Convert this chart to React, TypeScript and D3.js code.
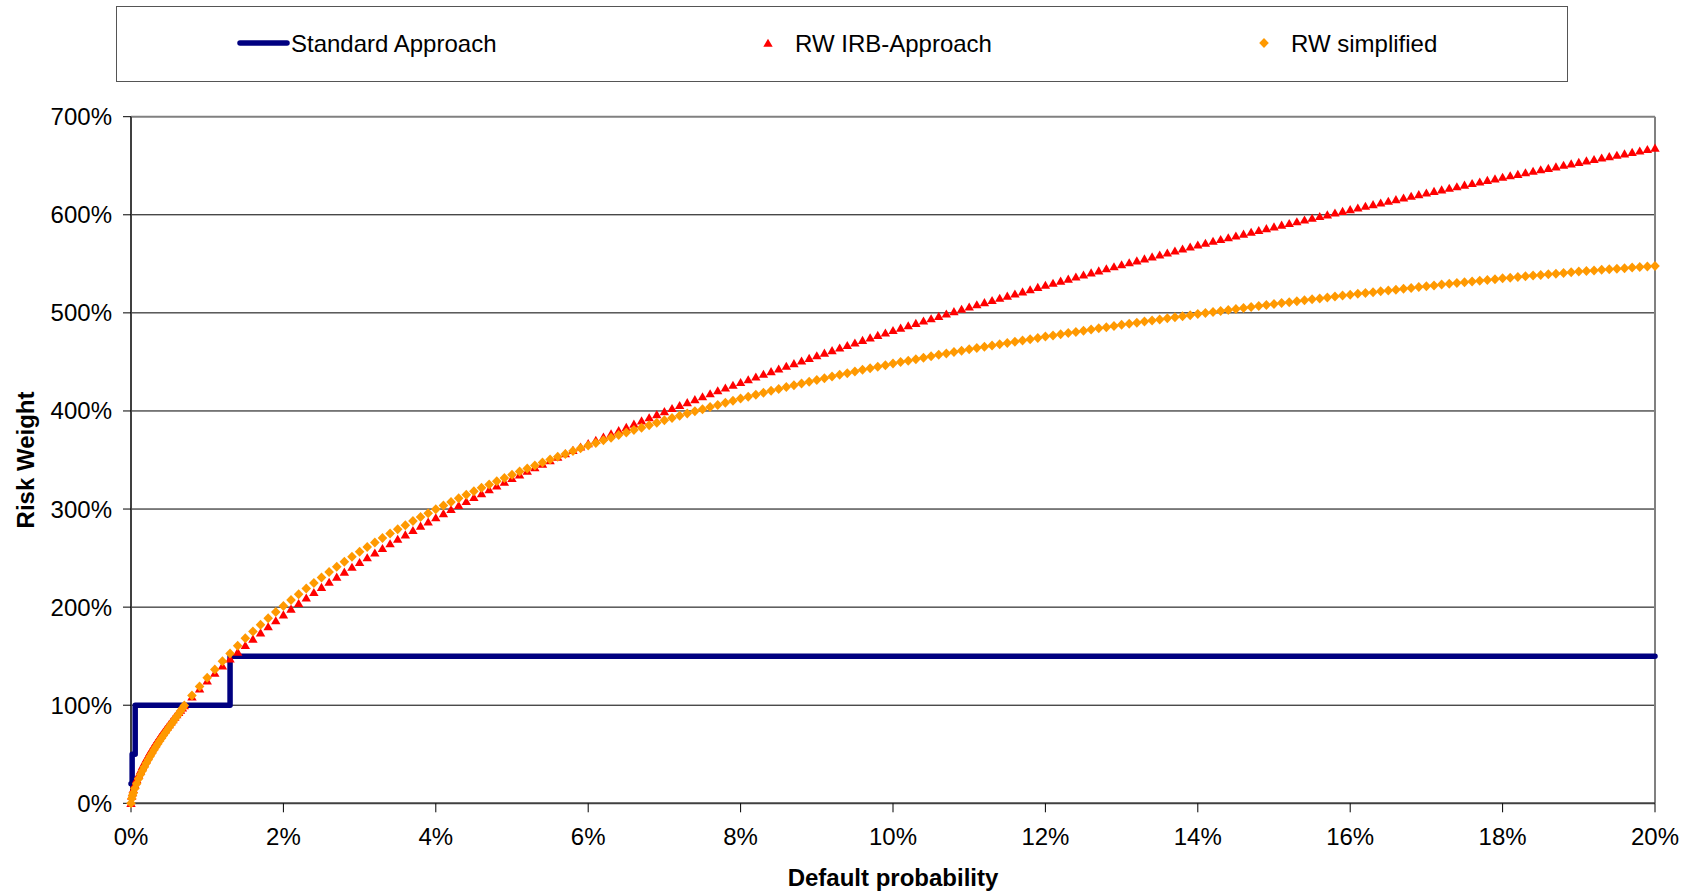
import React from "react";
import * as d3 from "d3";

// ---- Data (default probability in %, risk weight in %) ----
const PD_FINE = [0, 0.01, 0.02, 0.03, 0.05, 0.075, 0.1, 0.125, 0.15, 0.175, 0.2, 0.225, 0.25, 0.275, 0.3, 0.325, 0.35, 0.375, 0.4, 0.425, 0.45, 0.475, 0.5, 0.525, 0.55, 0.575, 0.6, 0.625, 0.65, 0.675, 0.7];
const IRB_FINE = [0, 7.4, 11.1, 14.3, 19.1, 24.5, 29.2, 33.6, 37.7, 41.5, 45.1, 48.6, 52.0, 55.2, 58.3, 61.3, 64.3, 67.2, 70.0, 72.7, 75.4, 78.0, 80.5, 83.1, 85.6, 88.1, 90.6, 92.9, 95.2, 97.5, 99.8];
const SIMP_FINE = [0, 5, 8, 10.5, 15, 20, 25, 29.3, 33.3, 37.1, 40.8, 44.4, 47.8, 51.1, 54.3, 57.4, 60.5, 63.5, 66.4, 69.2, 72.0, 74.8, 77.5, 80.3, 83.0, 85.7, 88.4, 91.1, 94.0, 96.9, 99.8];

const PD_COARSE = [
  0.8, 0.9,
  1.0, 1.1, 1.2, 1.3, 1.4, 1.5, 1.6, 1.7, 1.8, 1.9,
  2.0, 2.1, 2.2, 2.3, 2.4, 2.5, 2.6, 2.7, 2.8, 2.9,
  3.0, 3.1, 3.2, 3.3, 3.4, 3.5, 3.6, 3.7, 3.8, 3.9,
  4.0, 4.1, 4.2, 4.3, 4.4, 4.5, 4.6, 4.7, 4.8, 4.9,
  5.0, 5.1, 5.2, 5.3, 5.4, 5.5, 5.6, 5.7, 5.8, 5.9,
  6.0, 6.1, 6.2, 6.3, 6.4, 6.5, 6.6, 6.7, 6.8, 6.9,
  7.0, 7.1, 7.2, 7.3, 7.4, 7.5, 7.6, 7.7, 7.8, 7.9,
  8.0, 8.1, 8.2, 8.3, 8.4, 8.5, 8.6, 8.7, 8.8, 8.9,
  9.0, 9.1, 9.2, 9.3, 9.4, 9.5, 9.6, 9.7, 9.8, 9.9,
  10.0, 10.1, 10.2, 10.3, 10.4, 10.5, 10.6, 10.7, 10.8, 10.9,
  11.0, 11.1, 11.2, 11.3, 11.4, 11.5, 11.6, 11.7, 11.8, 11.9,
  12.0, 12.1, 12.2, 12.3, 12.4, 12.5, 12.6, 12.7, 12.8, 12.9,
  13.0, 13.1, 13.2, 13.3, 13.4, 13.5, 13.6, 13.7, 13.8, 13.9,
  14.0, 14.1, 14.2, 14.3, 14.4, 14.5, 14.6, 14.7, 14.8, 14.9,
  15.0, 15.1, 15.2, 15.3, 15.4, 15.5, 15.6, 15.7, 15.8, 15.9,
  16.0, 16.1, 16.2, 16.3, 16.4, 16.5, 16.6, 16.7, 16.8, 16.9,
  17.0, 17.1, 17.2, 17.3, 17.4, 17.5, 17.6, 17.7, 17.8, 17.9,
  18.0, 18.1, 18.2, 18.3, 18.4, 18.5, 18.6, 18.7, 18.8, 18.9,
  19.0, 19.1, 19.2, 19.3, 19.4, 19.5, 19.6, 19.7, 19.8, 19.9,
  20.0,
];

const IRB_COARSE = [
  108.6, 116.9,
  125.1, 132.8, 140.3, 147.5, 154.4, 161.1, 167.6, 174.0, 180.3, 186.4,
  192.4, 198.2, 204.0, 209.6, 215.1, 220.4, 225.6, 230.8, 235.9, 240.9,
  245.8, 250.6, 255.4, 260.1, 264.8, 269.4, 273.9, 278.4, 282.8, 287.1,
  291.4, 295.6, 299.8, 303.9, 308.0, 312.0, 316.0, 319.9, 323.8, 327.6,
  331.4, 335.1, 338.8, 342.4, 346.0, 349.6, 353.2, 356.7, 360.1, 363.5,
  366.9, 370.3, 373.6, 376.9, 380.2, 383.5, 386.8, 390.1, 393.3, 396.5,
  399.6, 402.7, 405.8, 408.8, 411.8, 414.8, 417.8, 420.8, 423.7, 426.5,
  429.3, 432.1, 434.9, 437.7, 440.4, 443.1, 445.8, 448.5, 451.2, 453.9,
  456.6, 459.2, 461.8, 464.4, 467.0, 469.6, 472.2, 474.8, 477.3, 479.8,
  482.3, 484.7, 487.1, 489.5, 491.9, 494.3, 496.7, 499.1, 501.5, 503.9,
  506.2, 508.5, 510.7, 512.9, 515.1, 517.3, 519.5, 521.7, 523.9, 526.2,
  528.4, 530.5, 532.6, 534.7, 536.8, 538.9, 541.0, 543.1, 545.2, 547.3,
  549.3, 551.3, 553.3, 555.3, 557.3, 559.3, 561.3, 563.3, 565.4, 567.4,
  569.4, 571.3, 573.2, 575.0, 576.8, 578.7, 580.5, 582.4, 584.2, 586.1,
  587.9, 589.7, 591.4, 593.2, 594.9, 596.7, 598.5, 600.2, 602.0, 603.7,
  605.5, 607.2, 608.9, 610.6, 612.3, 614.0, 615.7, 617.4, 619.1, 620.8,
  622.5, 624.1, 625.7, 627.3, 628.9, 630.5, 632.1, 633.7, 635.3, 636.9,
  638.5, 640.0, 641.5, 643.1, 644.6, 646.1, 647.6, 649.1, 650.7, 652.2,
  653.7, 655.2, 656.6, 658.1, 659.5, 661.0, 662.4, 663.9, 665.3, 666.8,
  668.2,
];

const SIMP_COARSE = [
  110, 119,
  128, 136.5, 144.7, 152.6, 160.5, 168.2, 175.2, 182.0, 188.6, 195.0,
  201.2, 207.3, 213.2, 219.0, 224.7, 230.3, 235.8, 241.1, 246.3, 251.4,
  256.4, 261.3, 266.0, 270.6, 275.1, 279.4, 283.6, 287.7, 291.8, 295.8,
  299.7, 303.5, 307.2, 310.9, 314.5, 318.1, 321.6, 325.0, 328.4, 331.7,
  335.0, 338.2, 341.3, 344.4, 347.4, 350.4, 353.3, 356.2, 359.1, 361.9,
  364.7, 367.4, 370.1, 372.8, 375.4, 378.0, 380.5, 383.0, 385.5, 388.0,
  390.4, 392.8, 395.1, 397.4, 399.6, 401.8, 404.0, 406.2, 408.4, 410.5,
  412.6, 414.6, 416.6, 418.6, 420.5, 422.4, 424.3, 426.1, 428.0, 429.8,
  431.6, 433.4, 435.1, 436.8, 438.5, 440.2, 441.9, 443.5, 445.1, 446.7,
  448.3, 449.8, 451.3, 452.8, 454.3, 455.8, 457.2, 458.6, 460.0, 461.4,
  462.8, 464.1, 465.4, 466.7, 468.0, 469.3, 470.6, 471.9, 473.2, 474.5,
  475.8, 477.0, 478.2, 479.4, 480.6, 481.8, 483.0, 484.2, 485.4, 486.6,
  487.8, 488.9, 490.0, 491.1, 492.2, 493.3, 494.4, 495.5, 496.6, 497.7,
  498.8, 499.8, 500.9, 501.9, 502.9, 503.9, 504.9, 506.0, 507.0, 508.0,
  509.0, 510.0, 510.9, 511.9, 512.8, 513.8, 514.7, 515.7, 516.6, 517.6,
  518.5, 519.4, 520.2, 521.1, 522.0, 522.8, 523.7, 524.6, 525.4, 526.3,
  527.2, 528.0, 528.8, 529.6, 530.4, 531.2, 532.0, 532.8, 533.6, 534.4,
  535.2, 535.9, 536.6, 537.3, 538.0, 538.7, 539.4, 540.0, 540.7, 541.4,
  542.1, 542.7, 543.3, 543.9, 544.5, 545.0, 545.6, 546.2, 546.8, 547.4,
  547.9,
];

// Standard approach (step function)
const SA_PD = [0, 0.015, 0.015, 0.055, 0.055, 1.3, 1.3, 20];
const SA_RW = [20, 20, 50, 50, 100, 100, 150, 150];

const Y_TICKS = [0, 100, 200, 300, 400, 500, 600, 700];
const X_TICKS = [0, 2, 4, 6, 8, 10, 12, 14, 16, 18, 20];
const SERIES_NAMES = ["Standard Approach", "RW IRB-Approach", "RW simplified"];

const FONT = "'Liberation Sans', Arial, Helvetica, sans-serif";
const NAVY = "#000080";
const RED = "#FF0000";
const ORANGE = "#FF9900";

const TRI = "M0,-4.3L4.7,3.8L-4.7,3.8Z";
const DIA = "M0,-5L4.8,0L0,5L-4.8,0Z";

export default function App() {
  const W = 1692;
  const H = 895;
  const left = 131;
  const right = 1655;
  const top = 116.7;
  const bottom = 803.3;

  const x = d3.scaleLinear().domain([0, 20]).range([left, right]);
  const y = d3.scaleLinear().domain([0, 700]).range([bottom, top]);

  const pd = [...PD_FINE, ...PD_COARSE];
  const irb = [...IRB_FINE, ...IRB_COARSE];
  const simp = [...SIMP_FINE, ...SIMP_COARSE];

  const saLine = d3
    .line<number>()
    .x((_, i) => x(SA_PD[i]))
    .y((d) => y(d))(SA_RW) as string;

  return (
    <svg
      width={W}
      height={H}
      style={{ position: "absolute", left: 0, top: 0, background: "#fff" }}
      fontFamily={FONT}
    >
      <rect x={0} y={0} width={W} height={H} fill="#fff" />

      {/* Legend */}
      <rect x={116.5} y={6.5} width={1451} height={75} fill="#fff" stroke="#555" strokeWidth={1} />
      <line x1={240} x2={287} y1={43} y2={43} stroke={NAVY} strokeWidth={5.5} strokeLinecap="round" />
      <text x={291} y={51.5} fontSize={24} fill="#000">{SERIES_NAMES[0]}</text>
      <path d={TRI} transform="translate(768,43)" fill={RED} />
      <text x={795} y={51.5} fontSize={24} fill="#000">{SERIES_NAMES[1]}</text>
      <path d={DIA} transform="translate(1264,43)" fill={ORANGE} />
      <text x={1291} y={51.5} fontSize={24} fill="#000">{SERIES_NAMES[2]}</text>

      {/* Gridlines */}
      {Y_TICKS.filter((t) => t > 0 && t < 700).map((t) => (
        <line key={"g" + t} x1={left} x2={right} y1={y(t)} y2={y(t)} stroke="#000" strokeWidth={1} />
      ))}

      {/* Plot border top/right */}
      <line x1={left} x2={right} y1={top} y2={top} stroke="#808080" strokeWidth={2} />
      <line x1={right} x2={right} y1={top} y2={bottom} stroke="#808080" strokeWidth={2} />

      {/* Y axis */}
      <line x1={left} x2={left} y1={top} y2={bottom} stroke="#404040" strokeWidth={2} />
      {Y_TICKS.map((t) => (
        <g key={"y" + t}>
          <line x1={left - 8} x2={left} y1={y(t)} y2={y(t)} stroke="#000" strokeWidth={1} />
          <text x={112} y={y(t) + 8.5} fontSize={24} textAnchor="end" fill="#000">
            {t + "%"}
          </text>
        </g>
      ))}

      {/* X axis */}
      <line x1={left} x2={right} y1={bottom} y2={bottom} stroke="#404040" strokeWidth={2} />
      {X_TICKS.map((t) => (
        <g key={"x" + t}>
          <line x1={x(t)} x2={x(t)} y1={bottom} y2={bottom + 9} stroke="#000" strokeWidth={1} />
          <text x={x(t)} y={845} fontSize={24} textAnchor="middle" fill="#000">
            {t + "%"}
          </text>
        </g>
      ))}

      {/* Axis titles */}
      <text x={(left + right) / 2} y={886} fontSize={24} fontWeight="bold" textAnchor="middle" fill="#000">
        Default probability
      </text>
      <text
        transform={`translate(34,${(top + bottom) / 2}) rotate(-90)`}
        fontSize={24}
        fontWeight="bold"
        textAnchor="middle"
        fill="#000"
      >
        Risk Weight
      </text>

      {/* Standard Approach */}
      <path d={saLine} fill="none" stroke={NAVY} strokeWidth={5.5} strokeLinejoin="round" strokeLinecap="round" />

      {/* RW IRB-Approach */}
      <g fill={RED}>
        {irb.map((v, i) => (
          <path key={"r" + i} d={TRI} transform={`translate(${x(pd[i])},${y(v)})`} />
        ))}
      </g>

      {/* RW simplified */}
      <g fill={ORANGE}>
        {simp.map((v, i) => (
          <path key={"o" + i} d={DIA} transform={`translate(${x(pd[i])},${y(v)})`} />
        ))}
      </g>
    </svg>
  );
}
